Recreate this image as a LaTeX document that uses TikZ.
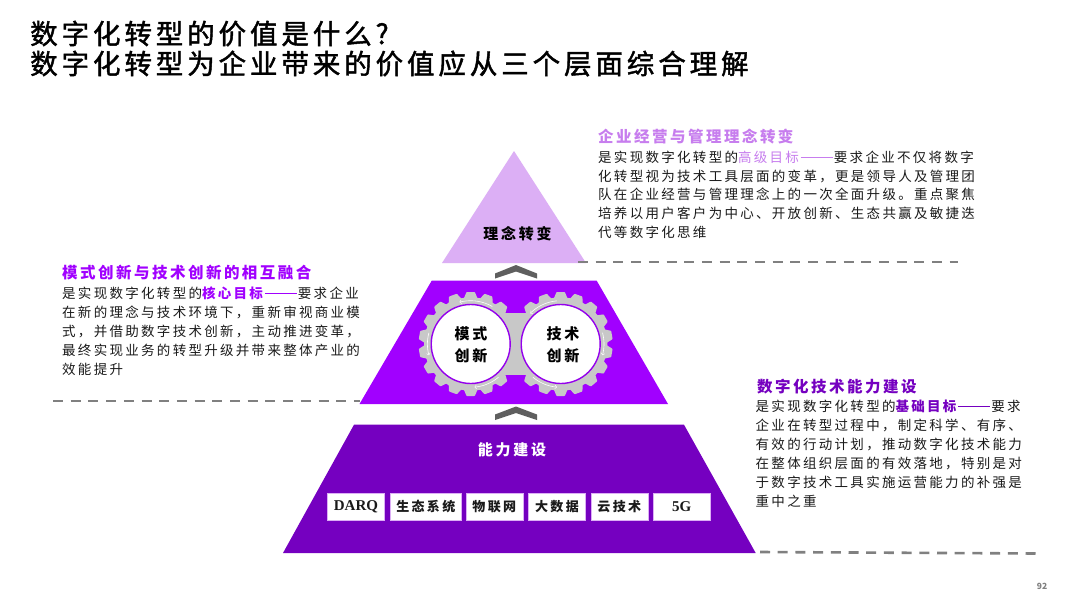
\documentclass[tikz,border=0pt]{standalone}
\usepackage{fontspec}
\setmainfont{Noto Sans CJK SC}
\newfontfamily\ttlf[LetterSpace=14.2,FakeBold=1.6]{Noto Sans CJK SC}
\newfontfamily\bodyf[LetterSpace=17]{Noto Sans CJK SC}
\newfontfamily\headf[LetterSpace=16]{Noto Sans CJK SC}
\newfontfamily\lblf[LetterSpace=18]{Noto Sans CJK SC}
\newfontfamily\latinf{Liberation Serif}
\definecolor{pLight}{HTML}{DCAFF5}
\definecolor{pMid}{HTML}{A100FF}
\definecolor{pDark}{HTML}{7500C0}
\definecolor{pHead}{HTML}{C77DEE}
\definecolor{chev}{HTML}{5F5F5F}
\definecolor{dashg}{HTML}{808080}
\definecolor{gearg}{HTML}{C8C8C8}
\definecolor{ink}{HTML}{1A1A1A}
\tikzset{
  titlebox/.style={anchor=north west,inner sep=0pt,align=left,text=black,font=\ttlf\fontsize{27.5}{30}\selectfont},
  headbox/.style={anchor=west,inner sep=0pt,font=\headf\fontsize{15.5}{18}\selectfont\bfseries},
  bodybox/.style={anchor=north west,inner sep=0pt,align=left,text=ink,font=\bodyf\fontsize{13.5}{18.9}\selectfont},
  lbl/.style={anchor=center,inner sep=0pt,align=center,font=\lblf\fontsize{15}{22}\selectfont\bfseries},
  techbox/.style={fill=white,draw=pLight,line width=0.5pt,inner sep=0pt,text=ink,minimum height=27pt,font=\lblf\fontsize{13}{15}\selectfont\bfseries},
  dashline/.style={draw=dashg,line width=2.6pt,dash pattern=on 10pt off 7.7pt},
  chevron/.style={fill=chev,draw=none},
  ring/.style={circle,fill=white,draw=pMid!70!pDark,line width=1.4pt,minimum size=79pt,inner sep=0pt},
  spin/.style={draw=white,line width=0.6pt,-{>[scale=0.7]}}
}
\newcommand{\gearteeth}[2]{%
  \foreach \a in {10,30,...,350}{
    \filldraw[gearg,line width=2pt,line join=round,shift={(#1,#2)},rotate=\a] (45,-6) -- (51,-3.5) -- (51,3.5) -- (45,6) -- cycle;
  }
  \fill[gearg] (#1,#2) circle[radius=46.7];
}
\newcommand{\spinarc}[4]{\draw[spin] plot[domain=#3:#4,samples=10,smooth] ({#1+43.3*cos(\x)},{#2+43.3*sin(\x)});}
\newcommand{\dashr}[1]{\kern2pt\textcolor{#1}{\rule[4.6pt]{32pt}{0.8pt}}\kern1pt}
\newcommand{\fc}{^^^^ff0c}
\begin{document}
\begin{tikzpicture}[x=1pt,y=-1pt]
\useasboundingbox (0,0) rectangle (1080,608);
\fill[white] (0,0) rectangle (1080,608);

\node[titlebox] (title) at (30,20.5) {数字化转型的价值是什么?\\数字化转型为企业带来的价值应从三个层面综合理解};

% lower dashed lines
\draw[dashline] (53,401) -- (360,401);
\draw[dashline] (760,552) -- (1037,553.5);

% pyramid
\fill[pLight] (514,151) -- (586,263) -- (442,263) -- cycle;
\fill[pMid] (431.7,280.7) -- (596.7,280.7) -- (668,404) -- (359.5,404) -- cycle;
\fill[pDark] (354,424.7) -- (684,424.7) -- (755.7,553) -- (283,553) -- cycle;
\draw[dashline] (578,262) -- (958,262);

% chevrons
\fill[chevron] (495,273.5) -- (516,265) -- (537,273.5) -- (537,278.5) -- (516,271.5) -- (495,278.5) -- cycle;
\fill[chevron] (495,414.5) -- (516,406.5) -- (537,414.5) -- (537,420) -- (516,413) -- (495,420) -- cycle;

% gears
\fill[gearg] (505,313) rectangle (526,375);
\gearteeth{470.7}{344}
\gearteeth{560.7}{344}
\node[ring] (cl) at (470.7,344) {};
\node[ring] (cr) at (560.7,344) {};
\spinarc{470.7}{344}{-60}{-105}
\spinarc{470.7}{344}{195}{165}
\spinarc{470.7}{344}{50}{85}
\spinarc{560.7}{344}{-95}{-135}
\spinarc{560.7}{344}{-15}{15}
\spinarc{560.7}{344}{130}{95}

% pyramid labels
\node[lbl,text=black] (n1) at (517.5,233.5) {理念转变};
\node[lbl,text=black] (n2) at (471,345) {模式\\创新};
\node[lbl,text=black] (n3) at (563,345) {技术\\创新};
\node[lbl,text=white] (n4) at (512,449.5) {能力建设};

% tech boxes
\node[techbox,minimum width=57pt] (t1) at (356,506.5) {\latinf\fontsize{15}{15}\selectfont\bfseries DARQ};
\node[techbox,minimum width=71.5pt] (t2) at (425.8,506.5) {生态系统};
\node[techbox,minimum width=57pt] (t3) at (494.3,506.5) {物联网};
\node[techbox,minimum width=57pt] (t4) at (557,506.5) {大数据};
\node[techbox,minimum width=57pt] (t5) at (619.3,506.5) {云技术};
\node[techbox,minimum width=57pt] (t6) at (681.6,506.5) {\latinf\fontsize{15}{15}\selectfont\bfseries 5G};

% top text
\node[headbox,text=pHead] (h1) at (598,137) {企业经营与管理理念转变};
\node[bodybox] (b1) at (598,150.5) {是实现数字化转型的{\color{pHead}高级目标}\dashr{pHead}要求企业不仅将数字\\化转型视为技术工具层面的变革\fc{}更是领导人及管理团\\队在企业经营与管理理念上的一次全面升级。重点聚焦\\培养以用户客户为中心、开放创新、生态共赢及敏捷迭\\代等数字化思维};

% left text
\node[headbox,text=pMid] (h2) at (62,273) {模式创新与技术创新的相互融合};
\node[bodybox] (b2) at (62,286.5) {是实现数字化转型的{\color{pMid}\bfseries 核心目标}\dashr{pMid}要求企业\\在新的理念与技术环境下\fc{}重新审视商业模\\式\fc{}并借助数字技术创新\fc{}主动推进变革\fc{}\\最终实现业务的转型升级并带来整体产业的\\效能提升};

% right text
\node[headbox,text=pDark] (h3) at (757,386.5) {数字化技术能力建设};
\node[bodybox] (b3) at (755.5,400) {是实现数字化转型的{\color{pDark}\bfseries 基础目标}\dashr{pDark}要求\\企业在转型过程中\fc{}制定科学、有序、\\有效的行动计划\fc{}推动数字化技术能力\\在整体组织层面的有效落地\fc{}特别是对\\于数字技术工具实施运营能力的补强是\\重中之重};

\node[inner sep=0pt,text=gray,font=\fontsize{8.5}{10}\selectfont\bfseries] (pg) at (1042,586) {92};
\end{tikzpicture}
\end{document}
